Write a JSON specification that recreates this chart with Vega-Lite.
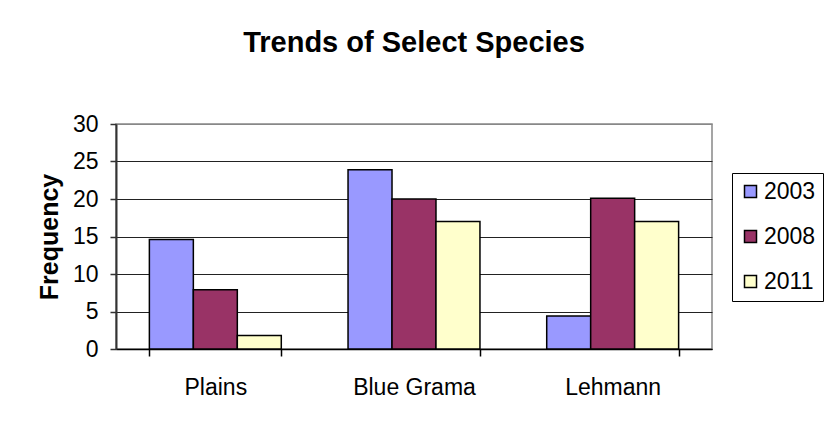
{
  "$schema": "https://vega.github.io/schema/vega-lite/v6.json",
  "width": 596,
  "height": 225,
  "autosize": {"type": "none"},
  "padding": {"left": 116, "top": 124, "right": 115, "bottom": 83},
  "background": "white",
  "title": {
    "text": "Trends of Select Species",
    "fontSize": 29,
    "font": "Liberation Sans",
    "fontWeight": "bold",
    "color": "black",
    "anchor": "middle",
    "baseline": "alphabetic",
    "offset": 32
  },
  "data": {
    "values": [
      {"species": "Plains", "year": "2003", "frequency": 14.6},
      {"species": "Plains", "year": "2008", "frequency": 7.9},
      {"species": "Plains", "year": "2011", "frequency": 1.8},
      {"species": "Blue Grama", "year": "2003", "frequency": 23.9},
      {"species": "Blue Grama", "year": "2008", "frequency": 20},
      {"species": "Blue Grama", "year": "2011", "frequency": 17},
      {"species": "Lehmann", "year": "2003", "frequency": 4.4},
      {"species": "Lehmann", "year": "2008", "frequency": 20.1},
      {"species": "Lehmann", "year": "2011", "frequency": 17}
    ]
  },
  "mark": {"type": "bar", "stroke": "black", "strokeWidth": 1.5, "opacity": 1},
  "encoding": {
    "x": {
      "field": "species",
      "type": "nominal",
      "sort": ["Plains", "Blue Grama", "Lehmann"],
      "scale": {"paddingInner": 0.336, "paddingOuter": 0.168},
      "axis": {
        "title": null,
        "labelAngle": 0,
        "labelFontSize": 23,
        "labelFont": "Liberation Sans",
        "labelColor": "black",
        "tickBand": "extent",
        "tickSize": 7,
        "tickColor": "black",
        "tickWidth": 1.5,
        "domainColor": "black",
        "domainWidth": 1.5,
        "labelPadding": 20,
        "grid": false
      }
    },
    "xOffset": {
      "field": "year",
      "type": "nominal",
      "scale": {"paddingInner": 0, "paddingOuter": 0}
    },
    "y": {
      "field": "frequency",
      "type": "quantitative",
      "scale": {"domain": [0, 30], "nice": false},
      "axis": {
        "title": "Frequency",
        "titleFont": "Liberation Sans",
        "titleFontSize": 25,
        "titleFontWeight": "bold",
        "titleColor": "black",
        "titlePadding": 10,
        "values": [0, 5, 10, 15, 20, 25, 30],
        "labelFont": "Liberation Sans",
        "labelFontSize": 23,
        "labelColor": "black",
        "labelPadding": 12,
        "tickSize": 6,
        "tickColor": "#333333",
        "tickWidth": 1.5,
        "domainColor": "#333333",
        "domainWidth": 2,
        "grid": true,
        "gridColor": {"condition": {"test": "datum.value == 30", "value": "#888888"}, "value": "#222222"},
        "gridWidth": 1
      }
    },
    "color": {
      "field": "year",
      "type": "nominal",
      "scale": {"domain": ["2003", "2008", "2011"], "range": ["#9999FF", "#993366", "#FFFFCC"]},
      "legend": {
        "orient": "none",
        "legendX": 616,
        "legendY": 49,
        "title": null,
        "symbolType": "square",
        "symbolSize": 144,
        "symbolStrokeColor": "black",
        "symbolStrokeWidth": 1.5,
        "symbolOpacity": 1,
        "labelFont": "Liberation Sans",
        "labelFontSize": 23,
        "labelColor": "black",
        "labelOffset": 2,
        "rowPadding": 21,
        "padding": 7,
        "strokeColor": "black",
        "fillColor": "white"
      }
    }
  },
  "config": {
    "view": {"stroke": "#888888", "strokeWidth": 1.5}
  }
}
